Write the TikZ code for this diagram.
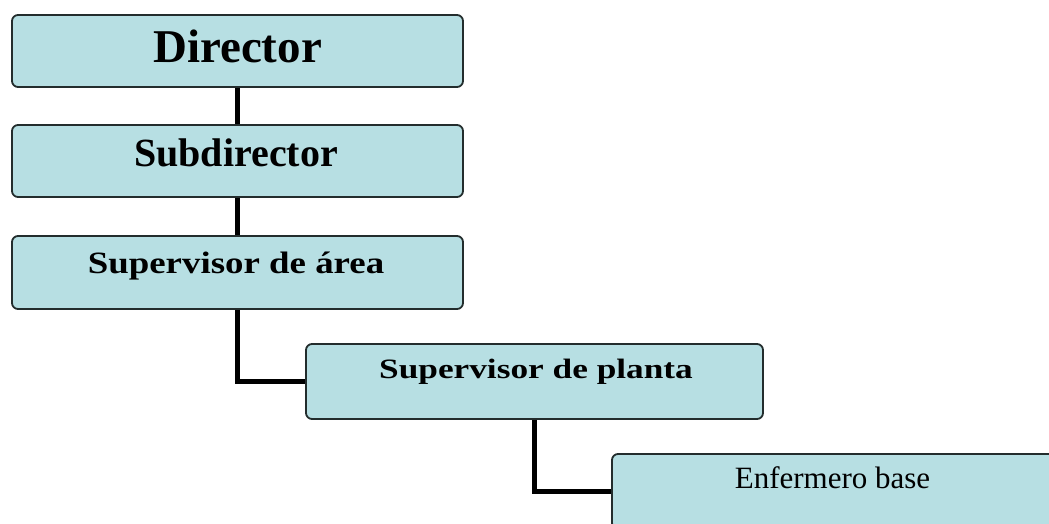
\documentclass[tikz,border=0pt]{standalone}
\usepackage{fontspec}
\setmainfont{Liberation Serif}
\usepackage{graphicx}
\definecolor{boxfill}{RGB}{183,223,227}
\definecolor{boxline}{RGB}{35,45,45}
\tikzset{
  orgbox/.style={draw=boxline, line width=1.8pt, fill=boxfill, rounded corners=6pt, inner sep=0pt},
  lbl/.style={anchor=base, inner sep=0pt, text=black},
  conn/.style={draw=black, line width=4.5pt}
}
\begin{document}
\begin{tikzpicture}[x=1pt,y=-1pt]
\clip (0,0) rectangle (1049,524);
\fill[white] (0,0) rectangle (1049,524);
% boxes
\node[orgbox, minimum width=451pt, minimum height=72pt] (dir) at (237.5,51) {};
\node[orgbox, minimum width=451pt, minimum height=72pt] (sub) at (237.5,161) {};
\node[orgbox, minimum width=451pt, minimum height=73pt] (area) at (237.5,272.5) {};
\node[orgbox, minimum width=457pt, minimum height=75pt] (planta) at (534.5,381.5) {};
\node[orgbox, minimum width=450pt, minimum height=75pt] (enf) at (837,491.5) {};
% connectors
\draw[conn] (dir.south) -- (sub.north);
\draw[conn] (sub.south) -- (area.north);
\draw[conn] (area.south) |- (planta.west);
\draw[conn] (planta.south) |- (enf.west);
% labels
\node[lbl] (tdir) at (237.5,63) {\fontsize{47}{50}\selectfont\bfseries Director};
\node[lbl] (tsub) at (236,166.5) {\fontsize{40}{44}\selectfont\bfseries Subdirector};
\node[lbl] (tarea) at (236,273) {\scalebox{1.19}[1]{\fontsize{31}{34}\selectfont\bfseries Supervisor de área}};
\node[lbl] (tplanta) at (536,378) {\scalebox{1.26}[1]{\fontsize{28}{31}\selectfont\bfseries Supervisor de planta}};
\node[lbl] (tenf) at (832.5,488) {\fontsize{31}{34}\selectfont Enfermero base};
\end{tikzpicture}
\end{document}
